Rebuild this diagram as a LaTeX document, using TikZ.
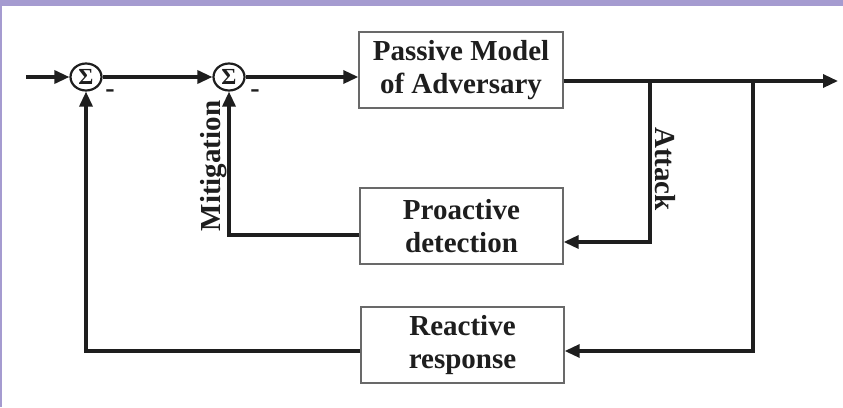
\documentclass[tikz,border=0pt]{standalone}
\usepackage{fontspec}
\setmainfont{Liberation Serif}
\usetikzlibrary{arrows.meta,shapes.geometric}
\definecolor{band}{RGB}{165,155,208}
\definecolor{ink}{RGB}{30,30,30}
\definecolor{boxline}{RGB}{105,105,105}
\begin{document}
\begin{tikzpicture}[x=1pt,y=-1pt,
  blk/.style={draw=boxline, line width=1.4pt, minimum width=203pt, minimum height=76pt, inner sep=0pt, align=center, text=ink, font=\fontsize{29}{33}\selectfont\bfseries},
  sumnode/.style={ellipse, draw=ink, line width=2.2pt, minimum width=31pt, minimum height=27pt, inner sep=0pt, text=ink, font=\fontsize{23}{23}\selectfont\bfseries},
  wire/.style={line width=3.3pt, draw=ink},
  arr/.style={wire, -{Triangle[length=15pt,width=13pt]}},
  lbl/.style={font=\fontsize{29}{33}\selectfont\bfseries, inner sep=0pt, text=ink},
  minus/.style={font=\fontsize{28}{28}\selectfont\bfseries, inner sep=0pt, text=ink},
]
\fill[white] (0,0) rectangle (843,407);
\useasboundingbox (0,0) rectangle (843,407);
\fill[band] (0,0) rectangle (843,6);
\fill[band] (0,0) rectangle (2,407);

% nodes
\coordinate (in) at (26,77);
\node[sumnode] (s1) at (86,77) {Σ};
\node[sumnode] (s2) at (229,77) {Σ};
\node[blk, minimum width=204pt] (pm) at (461,70) {Passive Model\\of Adversary};
\node[blk] (pd) at (461.5,226) {Proactive\\detection};
\node[blk] (rr) at (462.5,345) {Reactive\\response};
\coordinate (out) at (838,81);
\coordinate (ja) at (650,81);
\coordinate (jr) at (753,81);
\coordinate (ca) at (650,242);
\coordinate (cr) at (753,351);
\coordinate (cm) at (229,235);
\coordinate (cf) at (86,351);

% connectors
\draw[arr] (in) -- (s1);
\draw[arr] (s1) -- (s2);
\draw[arr] (s2.east) -- (s2.east -| pm.west);
\draw[arr] (pm.east |- out) -- (out);
\draw[arr] (ja) -- (ca) -- (ca -| pd.east);
\draw[arr] (jr) -- (cr) -- (cr -| rr.east);
\draw[arr] (cm -| pd.west) -- (cm) -- (s2.south);
\draw[arr] (cf -| rr.west) -- (cf) -- (s1.south);

% labels
\node[lbl, rotate=90] (mit) at (214,166) {Mitigation};
\node[lbl, rotate=-90] (att) at (665,169) {Attack};
\node[minus] (m1) at (110,94) {-};
\node[minus] (m2) at (255,94) {-};
\end{tikzpicture}
\end{document}
